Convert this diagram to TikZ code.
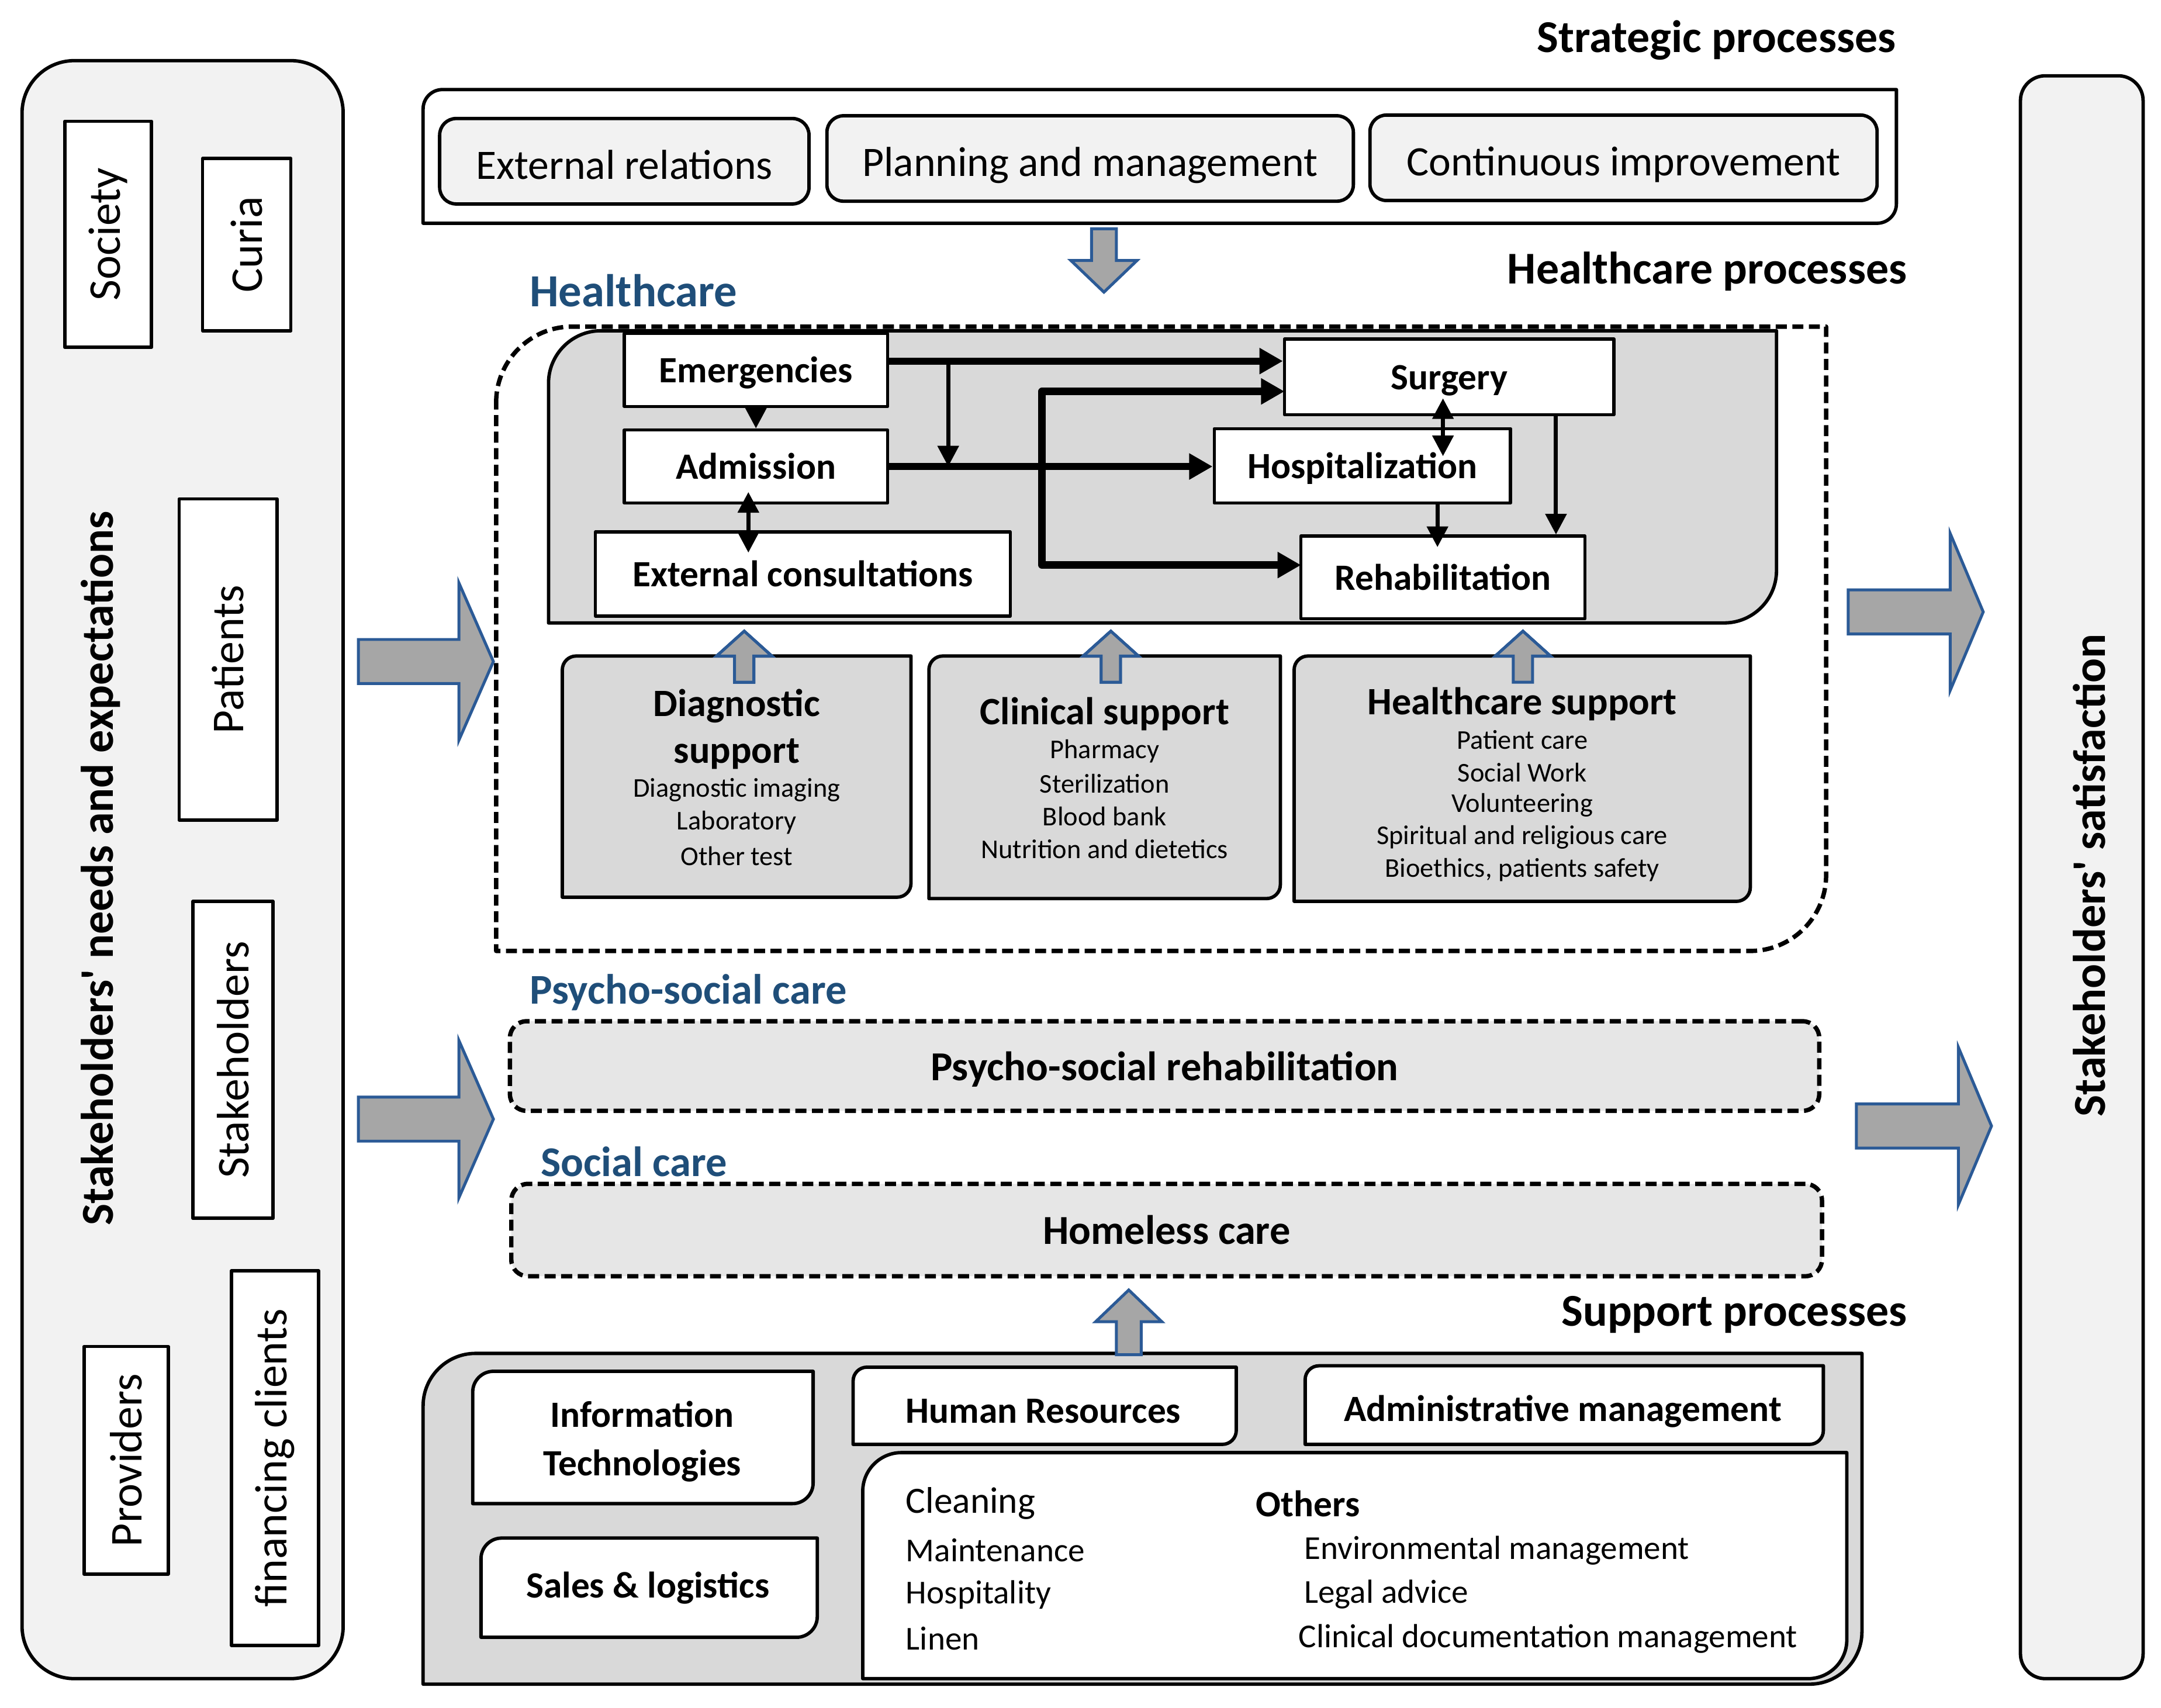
\documentclass[tikz,border=0pt]{standalone}
\usepackage{fontspec}
\setmainfont{Carlito}
\usetikzlibrary{arrows.meta,calc}
\definecolor{careblue}{HTML}{1F4E79}
\definecolor{arrowblue}{HTML}{2B5A96}
\definecolor{arrowgray}{HTML}{A6A6A6}
\definecolor{lightpanel}{HTML}{F2F2F2}
\definecolor{midpanel}{HTML}{D9D9D9}
\definecolor{dashpanel}{HTML}{E6E6E6}
\def\px{0.02cm}
\def\boxline{1.4pt}
% box with rounded top left and bottom right corners
\def\diagbox#1(#2,#3)(#4,#5)#6{%
  \path[#1] (#2,#3+#6) .. controls (#2,#3+0.45*#6) and (#2+0.45*#6,#3) .. (#2+#6,#3)
    -- (#4,#3) -- (#4,#5-#6) .. controls (#4,#5-0.45*#6) and (#4-0.45*#6,#5) .. (#4-#6,#5)
    -- (#2,#5) -- cycle;}

\begin{document}
\begin{tikzpicture}[x=\px, y=-\px, line join=round,
    every node/.style={inner sep=0pt},
    flowbox/.style={draw, fill=white, line width=1.3pt, text height=10.5pt, text depth=0pt,
      font=\bfseries\fontsize{15.3}{18}\selectfont},
    sidebox/.style={draw, fill=white, line width=\boxline, rotate=90, font=\fontsize{18.8}{22}\selectfont},
    stratbox/.style={draw, fill=lightpanel, rounded corners=0.24cm, line width=\boxline,
      text height=14.8pt, text depth=0pt, font=\fontsize{17.3}{20}\selectfont},
    heading/.style={anchor=east, font=\bfseries\fontsize{18.8}{22}\selectfont},
    area/.style={anchor=west, text=careblue, font=\bfseries\fontsize{17.5}{21}\selectfont},
    bold17/.style={text height=11.8pt, text depth=0pt, font=\bfseries\fontsize{17}{20}\selectfont},
    bold15/.style={font=\bfseries\fontsize{15.3}{19.9}\selectfont, align=center},
    supptitle/.style={font=\bfseries\fontsize{16}{19.4}\selectfont, align=center},
    suppitem/.style={font=\fontsize{11.2}{13}\selectfont},
    listitem/.style={anchor=west, font=\fontsize{13.8}{16}\selectfont},
    flowline/.style={line width=3pt, -{Triangle[length=0.34cm,width=0.36cm]}},
    thinline/.style={line width=1.7pt, -{Triangle[length=0.3cm,width=0.3cm]}},
    blockarrow/.style={fill=arrowgray, draw=arrowblue, line width=1.2pt, line join=miter},
    dashbox/.style={draw, dash pattern=on 0.16cm off 0.08cm, line width=1.8pt}]
  \useasboundingbox (0,0) rectangle (1568,1239.3);

  % stakeholders
  \draw[fill=lightpanel, line width=\boxline, rounded corners=0.76cm] (16,44) rectangle (249,1218);
  \draw[fill=lightpanel, line width=\boxline, rounded corners=0.36cm] (1466,55) rectangle (1555,1218);
  \foreach \n/\x/\y/\w/\h/\t in {society/78.5/170/164/63/Society, curia/179/177.5/125/64/Curia,
      patients/165.5/478.5/233/71/Patients, stake/169/769/230/58/Stakeholders,
      providers/91.5/1059.5/165/61/Providers, clients/199.5/1058/272/63/financing clients}
    \node[sidebox, minimum width=\w*\px, minimum height=\h*\px] (\n) at (\x,\y) {\t};
  \node[rotate=90, font=\bfseries\fontsize{18.9}{22}\selectfont] (needs) at (73,630) {Stakeholders\textquotesingle\ needs and expectations};
  \node[rotate=90, font=\bfseries\fontsize{18.9}{22}\selectfont] (satisf) at (1516,635) {Stakeholders\textquotesingle\ satisfaction};

  % strategic processes
  \node[heading] (strat) at (1376,29) {Strategic processes};
  \diagbox{draw,fill=white,line width=\boxline}(307,65)(1376,162){14}
  \foreach \n/\x/\y/\w/\t in {extrel/453/117/268/External relations, planning/791/115/382/Planning and management,
      improve/1178/114.5/368/Continuous improvement}
    \node[stratbox, minimum width=\w*\px, minimum height=62*\px] (\n) at (\x,\y) {\t};
  \draw[blockarrow] (792,166) -- (810,166) -- (810,189) -- (825,189) -- (801,212) -- (777,189) -- (792,189) -- cycle;

  % healthcare processes
  \node[heading] (hcproc) at (1384,197) {Healthcare processes};
  \node[area, font=\bfseries\fontsize{19}{22}\selectfont] (hclabel) at (384,211) {Healthcare};
  \diagbox{dashbox}(360,237)(1325,690){55}
  \diagbox{draw,fill=midpanel,line width=\boxline}(398,240)(1289,452){38}

  \node[flowbox, minimum width=191*\px, minimum height=53*\px] (emerg) at (548.5,268.5) {Emergencies};
  \node[flowbox, minimum width=191*\px, minimum height=53*\px] (admis) at (548.5,338.5) {Admission};
  \node[flowbox, minimum width=301*\px, minimum height=61*\px] (extcons) at (582.5,416.5) {External consultations};
  \node[flowbox, minimum width=239*\px, minimum height=55*\px] (surgery) at (1051.5,273.5) {Surgery};
  \node[flowbox, minimum width=215*\px, minimum height=54*\px] (hospit) at (988.5,338) {Hospitalization};
  \node[flowbox, minimum width=206*\px, minimum height=60*\px] (rehab) at (1047,419) {Rehabilitation};

  \coordinate (emline) at (688,262);
  \coordinate (branch) at (756,338);
  \coordinate (surin) at (932,284);
  \coordinate (rehin) at (944,410);
  \coordinate (sh1) at (1047,289);
  \coordinate (sh2) at (1047,331);
  \coordinate (ae1) at (543,357);
  \coordinate (ae2) at (543,401);
  \coordinate (hr2) at (1043,397);
  \coordinate (sr) at (1129,0);
  \draw[flowline] (emerg.east |- emline) -- (surgery.west |- emline);
  \draw[thinline] (emline) -- (emline |- admis.east);
  \draw[flowline] (admis.east) -- (admis.east -| hospit.west);
  \draw[flowline] (branch) |- (surin);
  \draw[flowline] (branch) |- (rehin);
  \draw[thinline] (emerg.south) -- (admis.north);
  \draw[thinline, {Triangle[length=0.3cm,width=0.3cm]}-{Triangle[length=0.3cm,width=0.3cm]}] (ae1) -- (ae2);
  \draw[thinline, {Triangle[length=0.3cm,width=0.3cm]}-{Triangle[length=0.3cm,width=0.3cm]}] (sh1) -- (sh2);
  \draw[thinline] (hospit.south -| hr2) -- (hr2);
  \draw[thinline] (surgery.south -| sr) -- (rehab.north -| sr);

  \foreach \x/\y/\X/\Y in {408/476/661/651, 674/476/929/652, 939/476/1270/654}
    \diagbox{draw,fill=midpanel,line width=\boxline}(\x,\y)(\X,\Y){10}
  \foreach \x in {540,806,1105}
    \draw[blockarrow] (\x-7,495) -- (\x-7,476) -- (\x-20,476) -- (\x,458) -- (\x+20,476) -- (\x+7,476) -- (\x+7,495) -- cycle;
  \node[supptitle] (diagsup) at (534.5,529) {Diagnostic\\support};
  \node[supptitle] (clinsup) at (801.5,518) {Clinical support};
  \node[supptitle] (hcsup) at (1104.5,511) {Healthcare support};
  \foreach \t [count=\i] in {Diagnostic imaging, Laboratory, Other test}
    \node[suppitem] (diag\i) at (534.5,549+24*\i) {\t};
  \foreach \t [count=\i] in {Pharmacy, Sterilization, Blood bank, Nutrition and dietetics}
    \node[suppitem] (clin\i) at (801.5,521.3+23.7*\i) {\t};
  \foreach \t [count=\i] in {Patient care, Social Work, Volunteering, Spiritual and religious care, {Bioethics, patients safety}}
    \node[suppitem] (hcs\i) at (1104.5,513.5+23.5*\i) {\t};

  % stakeholder arrows
  \foreach \c in {480,812}
    \draw[blockarrow] (260,\c-16) -- (333,\c-16) -- (333,\c-57) -- (358,\c) -- (333,\c+57) -- (333,\c+16) -- (260,\c+16) -- cycle;
  \foreach \a/\c in {1341/444, 1347/817}
    \draw[blockarrow] (\a,\c-16) -- (\a+74,\c-16) -- (\a+74,\c-57) -- (\a+98,\c) -- (\a+74,\c+57) -- (\a+74,\c+16) -- (\a,\c+16) -- cycle;

  % psycho-social and social care
  \node[area] (psylabel) at (384,720) {Psycho-social care};
  \node[dashbox, fill=dashpanel, rounded corners=0.24cm, minimum width=950*\px, minimum height=65*\px, bold17] (psyrehab) at (845,773.5) {Psycho-social rehabilitation};
  \node[area] (soclabel) at (392,843) {Social care};
  \node[dashbox, fill=dashpanel, rounded corners=0.24cm, minimum width=951*\px, minimum height=67*\px, bold17] (homeless) at (846.5,892.5) {Homeless care};

  % support processes
  \node[heading] (suppproc) at (1384,954) {Support processes};
  \diagbox{draw,fill=midpanel,line width=\boxline}(307,982)(1351,1222){38}
  \draw[blockarrow] (810,983) -- (810,959) -- (795,959) -- (819,936) -- (843,959) -- (828,959) -- (828,983) -- cycle;
  \diagbox{draw,fill=white,line width=\boxline}(343,995)(590,1091){15}
  \diagbox{draw,fill=white,line width=\boxline}(349,1116)(593,1188){15}
  \diagbox{draw,fill=white,line width=\boxline}(619,992)(897,1048){10}
  \diagbox{draw,fill=white,line width=\boxline}(947,991)(1323,1048){10}
  \diagbox{draw,fill=white,line width=\boxline}(626,1054)(1340,1218){28}
  \node[bold15] (infotech) at (466,1046) {Information\\Technologies};
  \node[bold15] (sales) at (470,1152) {Sales \& logistics};
  \node[bold15] (humres) at (757,1024) {Human Resources};
  \node[bold15] (admin) at (1134,1024) {Administrative management};
  \node[listitem, font=\fontsize{15.3}{18}\selectfont] (cleaning) at (657,1091) {Cleaning};
  \node[listitem, font=\bfseries\fontsize{15.3}{18}\selectfont] (others) at (911,1091) {Others};
  \foreach \t [count=\i] in {Maintenance, Hospitality, Linen}
    \node[listitem] (gen\i) at (657,1093+32*\i) {\t};
  \foreach \t/\x [count=\i] in {Environmental management/946, Legal advice/946, Clinical documentation management/942}
    \node[listitem] (oth\i) at (\x,1093+32*\i) {\t};
\end{tikzpicture}
\end{document}
